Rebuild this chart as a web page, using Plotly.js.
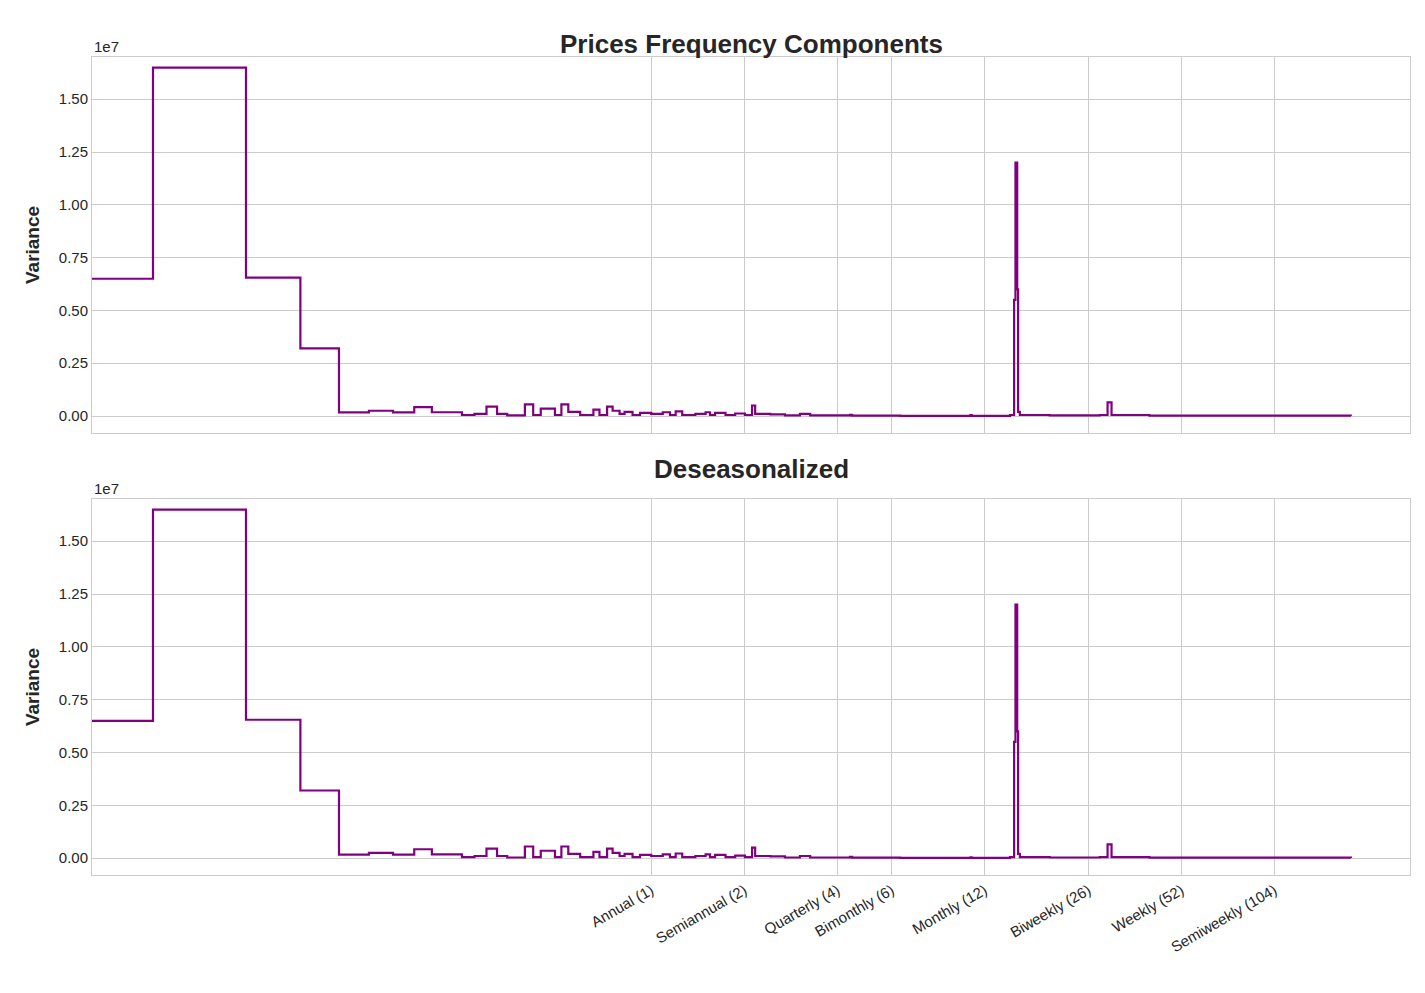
<!DOCTYPE html>
<html>
<head>
<meta charset="utf-8">
<script src="https://cdn.plot.ly/plotly-3.0.1.min.js"></script>
<style>html,body{margin:0;padding:0;background:#fff}</style>
</head>
<body>
<div id="chart" style="width:1425px;height:993px"></div>
<script>
"use strict";

// Frequency (cycles per year) and variance (step plot)
var freqs = [0.0150, 0.0244, 0.0488, 0.0732, 0.0976, 0.122, 0.146, 0.171, 0.195, 0.244,
  0.268, 0.293, 0.317, 0.342, 0.390, 0.415, 0.439, 0.488, 0.512, 0.539,
  0.589, 0.65, 0.68, 0.72, 0.75, 0.79, 0.82, 0.87, 0.92, 1.0,
  1.09, 1.15, 1.2, 1.26, 1.39, 1.5, 1.55, 1.61, 1.74, 1.87,
  2.01, 2.12, 2.17, 2.43, 2.71, 3.03, 3.27, 4.4, 4.47, 6.4,
  10.8, 10.9, 14.5, 14.95, 15.1, 15.3, 15.4, 15.6, 19.5, 28.3,
  30.0, 30.9, 41, 184]
var variance = [6.5, 16.5, 6.55, 3.2, 0.17, 0.25, 0.17, 0.42, 0.18, 0.05,
  0.1, 0.45, 0.1, 0.03, 0.55, 0.05, 0.35, 0.05, 0.55, 0.2,
  0.05, 0.3, 0.05, 0.45, 0.25, 0.1, 0.2, 0.05, 0.15, 0.1,
  0.18, 0.05, 0.22, 0.05, 0.1, 0.18, 0.05, 0.15, 0.05, 0.12,
  0.05, 0.5, 0.1, 0.08, 0.03, 0.1, 0.03, 0.06, 0.02, 0.01,
  0.04, 0.01, 0.05, 5.5, 12.0, 6.0, 0.2, 0.05, 0.03, 0.05,
  0.65, 0.05, 0.02, 0.01].map(function(v){ return v * 1e6 })

// Period tick labels
var tickVals = [1, 2, 4, 6, 12, 26, 52, 104]
var tickText = ["Annual (1)", "Semiannual (2)", "Quarterly (4)", "Bimonthly (6)",
  "Monthly (12)", "Biweekly (26)", "Weekly (52)", "Semiweekly (104)"]
var yTicks = [0, 2.5e6, 5e6, 7.5e6, 1e7, 1.25e7, 1.5e7]
var yText = ["0.00", "0.25", "0.50", "0.75", "1.00", "1.25", "1.50"]

var lineStyle = {color: "#800080", width: 2.2, shape: "hv"}
var font = {family: "Liberation Sans, Arial, sans-serif", color: "#262626"}

function xAxis(showLabels){
  return {
    type: "log", range: [-1.81, 2.456], tickvals: tickVals,
    ticktext: tickText, showticklabels: showLabels, tickangle: -30,
    tickfont: {size: 15}, gridcolor: "#cccccc", gridwidth: 1.2,
    showline: true, mirror: true, linecolor: "#cccccc", zeroline: false, ticks: ""
  }
}
function yAxis(){
  return {
    range: [-0.08e7, 1.7e7], tickvals: yTicks, ticktext: yText,
    tickfont: {size: 15}, gridcolor: "#cccccc", gridwidth: 1.2,
    showline: true, mirror: true, linecolor: "#cccccc", zeroline: false,
    ticks: "", 
    title: {text: "<b>Variance</b>", font: {size: 19}, standoff: 14}
  }
}

var traces = [
  {x: freqs, y: variance, type: "scatter", mode: "lines", line: lineStyle, xaxis: "x", yaxis: "y"},
  {x: freqs, y: variance, type: "scatter", mode: "lines", line: lineStyle, xaxis: "x2", yaxis: "y2"}
]

var xa1 = xAxis(false); xa1.domain = [0, 1]; xa1.anchor = "y"
var xa2 = xAxis(true); xa2.domain = [0, 1]; xa2.anchor = "y2"; xa2.matches = "x"
var ya1 = yAxis(); ya1.domain = [0.564, 0.9426]; ya1.anchor = "x"
var ya2 = yAxis(); ya2.domain = [0.1188, 0.4975]; ya2.anchor = "x2"

var layout = {
  width: 1425, height: 993, showlegend: false, font: font,
  paper_bgcolor: "#fff", plot_bgcolor: "#fff",
  margin: {l: 92, r: 15, t: 0, b: 0},
  xaxis: xa1, yaxis: ya1, xaxis2: xa2, yaxis2: ya2,
  annotations: [
    {text: "<b>Prices Frequency Components</b>", x: 0.5, y: 0.973, xref: "paper", yref: "paper",
     showarrow: false, font: {size: 26}},
    {text: "<b>Deseasonalized</b>", x: 0.5, y: 0.528, xref: "paper", yref: "paper",
     showarrow: false, font: {size: 26}},
    {text: "1e7", x: 0, y: 0.9426, xref: "paper", yref: "paper", xanchor: "left", yanchor: "bottom",
     showarrow: false, font: {size: 15}},
    {text: "1e7", x: 0, y: 0.4975, xref: "paper", yref: "paper", xanchor: "left", yanchor: "bottom",
     showarrow: false, font: {size: 15}}
  ]
}

Plotly.newPlot("chart", traces, layout, {displayModeBar: false})
</script>
</body>
</html>
